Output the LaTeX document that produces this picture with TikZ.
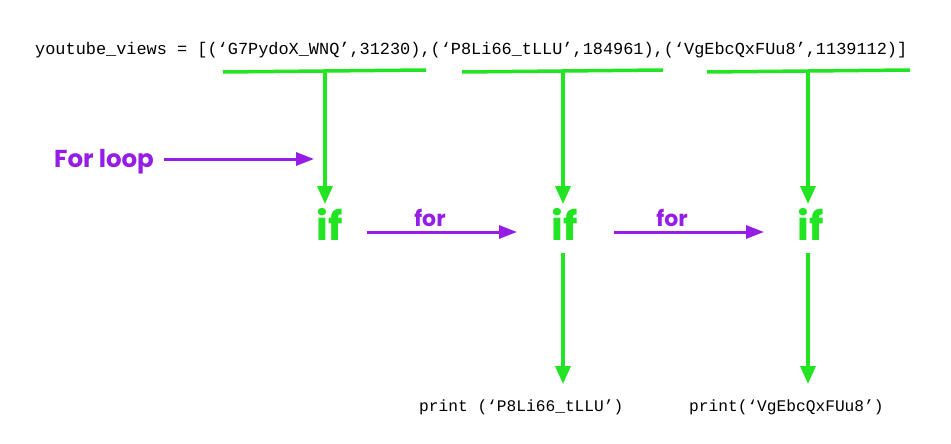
\documentclass[tikz,border=0pt]{standalone}
\usepackage{fontspec}
\setmonofont{Liberation Mono}
\newfontfamily\popp{Poppins}
\usetikzlibrary{arrows.meta}
\definecolor{gr}{RGB}{34,228,34}
\definecolor{pu}{RGB}{150,28,232}
\begin{document}
\begin{tikzpicture}[x=1pt,y=-1pt,
  code/.style={inner sep=0pt,font=\fontsize{16.9}{18}\ttfamily,anchor=base west},
  pcode/.style={inner sep=0pt,font=\fontsize{16.2}{18}\ttfamily,anchor=base west},
  iftext/.style={inner sep=0pt,text=gr,font=\fontsize{40}{44}\popp\bfseries,anchor=base},
  fortext/.style={inner sep=0pt,text=pu,font=\fontsize{22}{24}\popp\bfseries,anchor=base},
  gline/.style={draw=gr,line width=3.5pt},
  garrow/.style={draw=gr,line width=3.5pt,-{Triangle[length=18pt,width=15pt]}},
  parrow/.style={draw=pu,line width=3pt,-{Triangle[length=18pt,width=13pt]}}]
\useasboundingbox (0,0) rectangle (951,444);
\fill[white] (0,0) rectangle (951,444);
% top code
\node[code] (list) at (35,55) {youtube\_views = [(‘G7PydoX\_WNQ’,31230),(‘P8Li66\_tLLU’,184961),(‘VgEbcQxFUu8’,1139112)]};
% brackets
\coordinate (b1l) at (223,72); \coordinate (b1r) at (426,70); \coordinate (b1m) at (325,71);
\coordinate (b2l) at (462,72); \coordinate (b2r) at (663,70); \coordinate (b2m) at (563,71);
\coordinate (b3l) at (707,72); \coordinate (b3r) at (910,70); \coordinate (b3m) at (808,71);
\draw[gline] (b1l) -- (b1r);
\draw[gline] (b2l) -- (b2r);
\draw[gline] (b3l) -- (b3r);
% if nodes
\node[iftext] (if1) at (330,240) {if};
\node[iftext] (if2) at (565,240) {if};
\node[iftext] (if3) at (811,240) {if};
% down arrows into if
\coordinate (t1) at (325,204); \coordinate (t2) at (563,204); \coordinate (t3) at (808,204);
\draw[garrow] (b1m) -- (t1);
\draw[garrow] (b2m) -- (t2);
\draw[garrow] (b3m) -- (t3);
% print nodes
\node[pcode] (p2) at (419,411) {print (‘P8Li66\_tLLU’)};
\node[pcode] (p3) at (689,411) {print(‘VgEbcQxFUu8’)};
\coordinate (s2) at (563,253); \coordinate (s3) at (808,253);
\draw[garrow] (s2) -- (s2 |- 0,384);
\draw[garrow] (s3) -- (s3 |- 0,384);
% For loop
\node[fortext,font=\fontsize{24.5}{26}\popp\bfseries] (fl) at (104,167) {For loop};
\coordinate (fla) at (164,159); \coordinate (flb) at (314,159);
\draw[parrow] (fla) -- (flb);
% for arrows
\coordinate (f1a) at (367,232); \coordinate (f1b) at (517,232);
\coordinate (f2a) at (614,232); \coordinate (f2b) at (764,232);
\draw[parrow] (f1a) -- (f1b);
\draw[parrow] (f2a) -- (f2b);
\node[fortext] (for1) at (430,226) {for};
\node[fortext] (for2) at (672,226) {for};
\end{tikzpicture}
\end{document}
